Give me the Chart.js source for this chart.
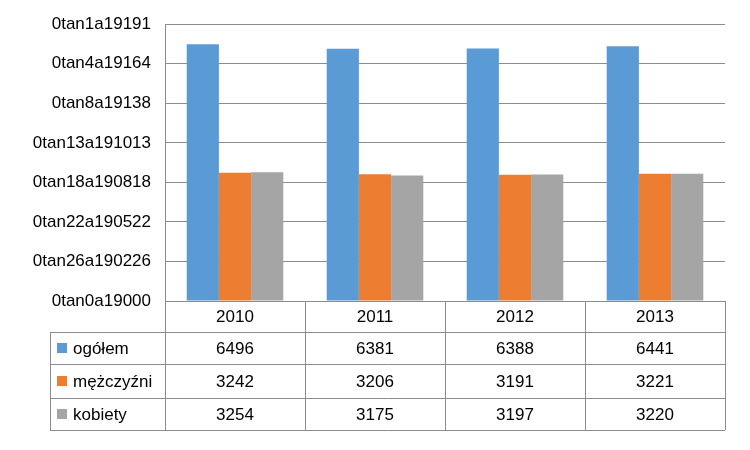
<!DOCTYPE html><html><head><meta charset="utf-8">
<script src="https://cdn.jsdelivr.net/npm/chart.js@4/dist/chart.umd.min.js"></script>
<style>body{margin:0;background:#fff}</style></head><body>
<canvas id="c" width="750" height="450"></canvas>
<script>
const categories=['2010','2011','2012','2013'];
const seriesNames=['ogółem','mężczyźni','kobiety'];
const ogolem=[6496,6381,6388,6441];
const mezczyzni=[3242,3206,3191,3221];
const kobiety=[3254,3175,3197,3220];
const tickLabels=['0tan0a19000','0tan26a190226','0tan22a190522','0tan18a190818','0tan13a191013','0tan8a19138','0tan4a19164','0tan1a19191'];
const colors=['#5B9BD5','#ED7D31','#A5A5A5'];
const FONT='"Liberation Sans", Arial, sans-serif';
const LINE='#8c8c8c';
const tablePlugin={id:'tbl',afterDraw(ch){
 const ctx=ch.ctx,a=ch.chartArea,x=ch.scales.x;
 const rows=[a.bottom,a.bottom+31,a.bottom+63,a.bottom+97,a.bottom+129];
 const legL=50;
 ctx.save();ctx.strokeStyle=LINE;ctx.lineWidth=1;
 ctx.beginPath();
 ctx.moveTo(a.left+.5,a.top);ctx.lineTo(a.left+.5,rows[4]);
 for(let i=0;i<=categories.length;i++){const xx=Math.round(a.left+(a.right-a.left)*i/categories.length)+.5;ctx.moveTo(xx,a.bottom);ctx.lineTo(xx,rows[4]);}
 ctx.moveTo(a.left,rows[1]+.5);ctx.lineTo(a.right,rows[1]+.5);
 for(let r=1;r<5;r++){ctx.moveTo(legL,rows[r]+.5);ctx.lineTo(a.right,rows[r]+.5);}
 ctx.moveTo(legL+.5,rows[1]);ctx.lineTo(legL+.5,rows[4]);
 ctx.stroke();
 ctx.fillStyle='#000';ctx.font='17px '+FONT;ctx.textAlign='center';ctx.textBaseline='middle';
 const data=[ogolem,mezczyzni,kobiety];
 categories.forEach((c,i)=>{const cx=x.getPixelForValue(i);
  ctx.fillText(c,cx,(rows[0]+rows[1])/2+1);
  data.forEach((d,j)=>ctx.fillText(String(d[i]),cx,(rows[j+1]+rows[j+2])/2+1));});
 ctx.textAlign='left';
 seriesNames.forEach((n,j)=>{const cy=(rows[j+1]+rows[j+2])/2;ctx.fillStyle=colors[j];ctx.fillRect(legL+7,cy-5,10,10);ctx.fillStyle='#000';ctx.fillText(n,legL+23,cy+1);});
 ctx.restore();}};
new Chart(document.getElementById('c'),{type:'bar',
 data:{labels:categories,datasets:[
  {label:seriesNames[0],data:ogolem,backgroundColor:colors[0]},
  {label:seriesNames[1],data:mezczyzni,backgroundColor:colors[1]},
  {label:seriesNames[2],data:kobiety,backgroundColor:colors[2]}]},
 options:{responsive:false,animation:false,devicePixelRatio:1,
  layout:{padding:{top:23,right:25,bottom:141,left:0}},
  plugins:{legend:{display:false},tooltip:{enabled:false}},
  datasets:{bar:{categoryPercentage:0.69,barPercentage:1}},
  scales:{
   x:{ticks:{display:false},grid:{display:false},border:{display:false}},
   y:{min:0,max:7000,ticks:{stepSize:1000,color:'#000',font:{family:FONT,size:17},padding:14,callback:(v,i)=>tickLabels[i]},
      grid:{color:LINE,drawTicks:false},border:{display:false},
      afterFit(s){s.width=165;}}}},
 plugins:[tablePlugin]});
</script></body></html>
